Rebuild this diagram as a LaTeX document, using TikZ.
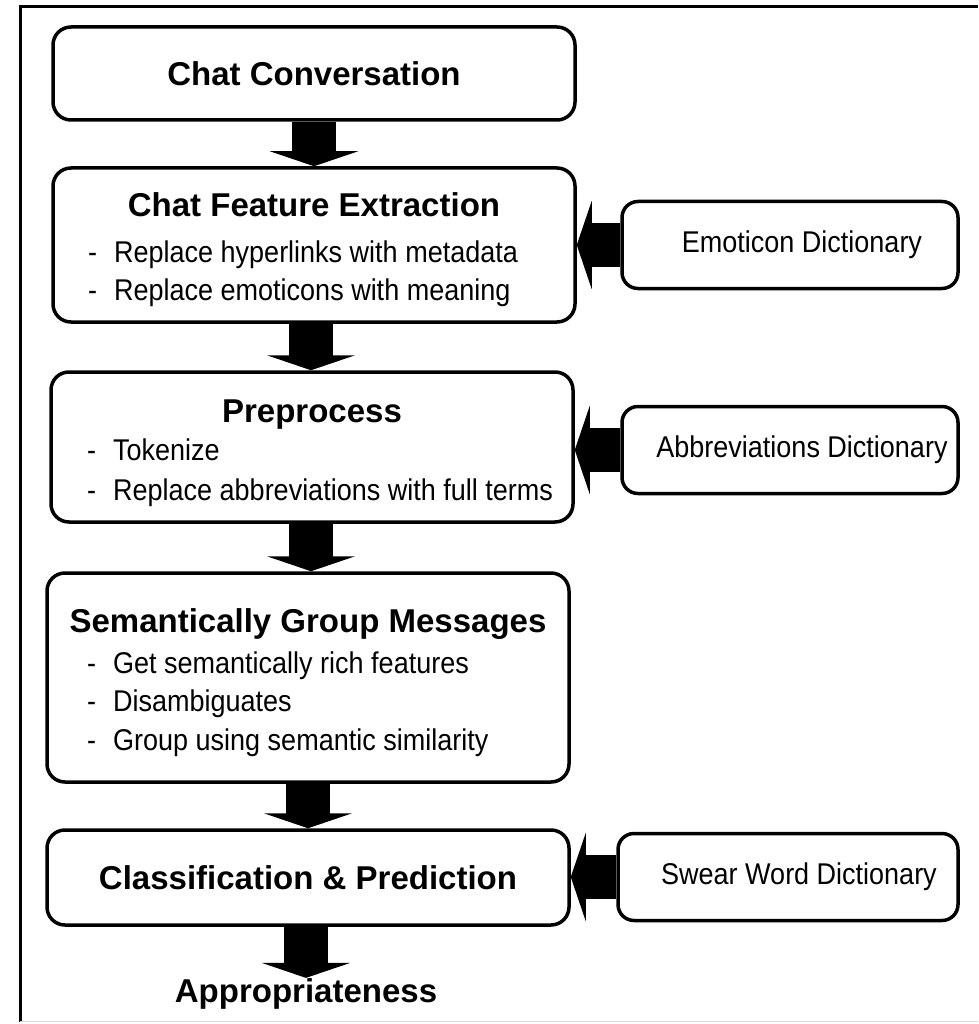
\documentclass[tikz,border=0pt]{standalone}
\usepackage{fontspec}
\setmainfont{Liberation Sans}
\newfontfamily\chatNarrow{Liberation Sans}[FakeStretch=0.9]
\usepackage{tikz}
\usetikzlibrary{arrows.meta}

\newcommand{\chatTitleFont}{\fontsize{33}{40}\selectfont\bfseries}
\newcommand{\chatItemFont}{\chatNarrow\fontsize{30}{36}\selectfont}

\begin{document}
\begin{tikzpicture}[x=1pt, y=-1pt,
    box/.style={draw=black, line width=3.5pt, rounded corners=18pt, inner sep=0pt, minimum width=522pt, font=\chatTitleFont},
    dict/.style={draw=black, line width=3.5pt, rounded corners=16pt, inner sep=0pt, minimum width=336pt, minimum height=87pt, font=\chatItemFont},
    heading/.style={font=\chatTitleFont, inner sep=0pt, anchor=base},
    item/.style={font=\chatItemFont, inner sep=0pt, anchor=base west},
    fat/.style={line width=44pt, -{Triangle[length=15pt, width=88pt]}}]
        \useasboundingbox (0,0) rectangle (978,1024);
        \draw[line width=3pt] (20,1022) -- (20,7) -- (978,7);
        \draw[black!15, line width=1pt] (20,1021) -- (978,1021);

        \node[box, minimum height=93pt] (conv) at (314,73.5) {Chat Conversation};

        \node[box, minimum height=154pt] (feat) at (314,245) {};
        \node[heading] (feattitle) at (314,217) {Chat Feature Extraction};
        \node[item] (feat1) at (88,262) {-\hspace{17pt}Replace hyperlinks with metadata};
        \node[item] (feat2) at (88,300) {-\hspace{17pt}Replace emoticons with meaning};

        \node[box, minimum height=150pt] (prep) at (312,447) {};
        \node[heading] (preptitle) at (312,422) {Preprocess};
        \node[item] (prep1) at (87,460) {-\hspace{17pt}Tokenize};
        \node[item] (prep2) at (87,500) {-\hspace{17pt}Replace abbreviations with full terms};

        \node[box, minimum height=209pt] (sem) at (308,677.5) {};
        \node[heading] (semtitle) at (308,632) {Semantically Group Messages};
        \node[item] (sem1) at (87,673) {-\hspace{17pt}Get semantically rich features};
        \node[item] (sem2) at (87,711) {-\hspace{17pt}Disambiguates};
        \node[item] (sem3) at (87,750) {-\hspace{17pt}Group using semantic similarity};

        \node[box, minimum height=95pt] (class) at (308,877.5) {Classification \& Prediction};

        \node[heading] (appr) at (306,1002) {Appropriateness};

        \node[dict] (emo) at (790,245) {\hspace*{24pt}Emoticon Dictionary};
        \node[dict] (abbr) at (790,450) {\hspace*{24pt}Abbreviations Dictionary};
        \node[dict, minimum width=340pt] (swear) at (788,877) {\hspace*{22pt}Swear Word Dictionary};

        \draw[fat] (conv.south) -- (conv.south |- feat.north);
        \draw[fat] (feat.south -| 311,0) -- (prep.north -| 311,0);
        \draw[fat] (prep.south -| 311,0) -- (sem.north -| 311,0);
        \draw[fat] (sem.south -| 308,0) -- (class.north -| 308,0);
        \draw[fat] (class.south -| 306,0) -- (appr.north);

        \draw[fat] (emo.west) -- (emo.west -| feat.east);
        \draw[fat] (abbr.west) -- (abbr.west -| prep.east);
        \draw[fat] (swear.west) -- (swear.west -| class.east);
\end{tikzpicture}
\end{document}
